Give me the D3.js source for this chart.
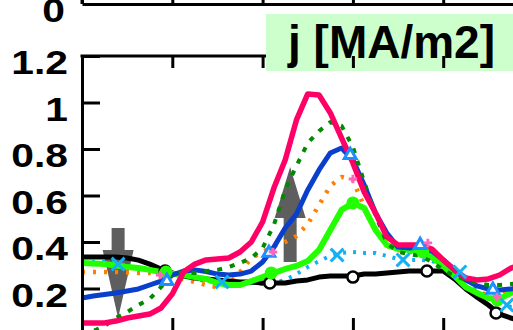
<!DOCTYPE html>
<html><head><meta charset="utf-8">
<script src="https://cdn.jsdelivr.net/npm/d3@7"></script>
<style>body{margin:0;background:#fff}svg{display:block}</style>
</head><body><svg id="c" width="513" height="330"></svg>
<script>
// ---- data (rho grid and current density j [MA/m2]) ----
const rho = [0,0.025,0.05,0.075,0.1,0.125,0.15,0.175,0.2,0.225,0.25,0.275,0.3,0.325,0.35,0.375,0.4,0.425,0.45,0.475,0.5,0.525,0.55,0.575,0.6,0.625,0.65,0.675,0.7,0.725,0.75,0.775,0.8,0.825,0.85,0.875,0.9,0.925,0.95,0.975];
const jBlack = [0.335,0.335,0.335,0.335,0.331,0.322,0.305,0.284,0.267,0.254,0.245,0.241,0.237,0.232,0.228,0.228,0.224,0.224,0.224,0.232,0.237,0.249,0.254,0.254,0.254,0.262,0.262,0.267,0.271,0.275,0.275,0.275,0.275,0.241,0.198,0.163,0.129,0.090,0.073,0.060];
const jPink = [0.052,0.052,0.052,0.060,0.073,0.082,0.090,0.116,0.176,0.271,0.305,0.323,0.327,0.331,0.357,0.400,0.486,0.632,0.753,0.925,1.037,1.032,0.955,0.847,0.740,0.615,0.525,0.422,0.387,0.387,0.387,0.370,0.323,0.280,0.245,0.237,0.241,0.258,0.288,0.305];
const jBlue = [0.159,0.168,0.174,0.181,0.189,0.198,0.215,0.232,0.258,0.275,0.280,0.273,0.262,0.258,0.262,0.275,0.314,0.378,0.460,0.520,0.624,0.710,0.783,0.804,0.753,0.645,0.525,0.439,0.378,0.374,0.378,0.361,0.323,0.280,0.237,0.211,0.198,0.194,0.198,0.202];
const jGreen = [0.310,0.308,0.305,0.299,0.292,0.288,0.280,0.271,0.262,0.258,0.249,0.241,0.224,0.215,0.215,0.232,0.249,0.267,0.284,0.297,0.318,0.366,0.452,0.538,0.568,0.546,0.452,0.387,0.370,0.366,0.361,0.335,0.297,0.254,0.206,0.181,0.159,0.155,0.181,0.202];
const jDarkGreen = [0.000,0.017,0.039,0.073,0.099,0.129,0.155,0.206,0.262,0.271,0.267,0.275,0.280,0.292,0.310,0.331,0.374,0.473,0.624,0.727,0.826,0.877,0.916,0.899,0.809,0.658,0.516,0.396,0.357,0.348,0.340,0.314,0.280,0.254,0.237,0.224,0.215,0.215,0.219,0.224];
const jOrange = [0.271,0.271,0.271,0.271,0.269,0.267,0.267,0.258,0.249,0.241,0.228,0.215,0.206,0.219,0.271,0.331,0.357,0.383,0.400,0.426,0.477,0.559,0.641,0.680,0.667,0.551,0.452,0.383,0.366,0.357,0.357,0.331,0.297,0.258,0.206,0.185,0.172,0.163,0.206,0.228];
const jCyan = [0.314,0.314,0.314,0.310,0.297,0.288,0.280,0.271,0.258,0.249,0.241,0.232,0.228,0.224,0.224,0.224,0.219,0.224,0.237,0.262,0.292,0.318,0.340,0.353,0.357,0.353,0.353,0.340,0.327,0.323,0.323,0.318,0.301,0.280,0.237,0.194,0.163,0.142,0.120,0.108];

// marker positions
const blackMarkRho = [0.184,0.416,0.600,0.764,0.917];
const blackMarkJ   = [0.275,0.224,0.249,0.275,0.095];
const greenMarkRho = [0.186,0.419,0.600,0.755,0.920];
const greenMarkJ   = [0.271,0.267,0.568,0.357,0.151];
const triMarkRho   = [0.188,0.414,0.594,0.749,0.910];
const triMarkJ     = [0.232,0.353,0.774,0.387,0.194];
const crossMarkRho = [0.080,0.310,0.565,0.711,0.837,0.941];
const crossMarkJ   = [0.305,0.228,0.344,0.323,0.271,0.129];
const plusMarkRho  = [0.173,0.423,0.600,0.766,0.919];
const plusMarkJ    = [0.258,0.357,0.671,0.396,0.163];

// annotation arrows (rho, from j, to j, head start j)
const arrows = [
  {rho:0.080, from:0.460, to:0.073, head:0.366},
  {rho:0.461, from:0.314, to:0.723, head:0.503}
];

const yTicks = [0,0.2,0.4,0.6,0.8,1.0,1.2];
const xTicks = [0,0.2,0.4,0.6,0.8,1.0];
const title = "j [MA/m2]";

// ---- drawing ----
const svg = d3.select("#c");
const x = d3.scaleLinear().domain([0,1]).range([82,533.5]);
const y = d3.scaleLinear().domain([0,1.2]).range([335,56]);
const yPrev = d3.scaleLinear().domain([0,1.2]).range([4,-275]);
const fmt = d => String(+d.toFixed(1));
const labelFont = "bold 34px 'Liberation Sans', Arial, sans-serif";
const sx = 1.2;

// title box
svg.append("rect").attr("x",266).attr("y",14).attr("width",260).attr("height",57).attr("fill","#ccffcc");
svg.append("text").attr("x",288).attr("y",58).text(title)
  .style("font","bold 46px 'Liberation Sans', Arial, sans-serif").attr("fill","#000");

// previous panel (bottom edge)
const gPrevX = svg.append("g").attr("transform","translate(0,4)")
  .call(d3.axisBottom(x).tickValues(xTicks).tickSizeInner(-14).tickSizeOuter(0).tickFormat(""));
const gPrevY = svg.append("g").attr("transform","translate(82,0)")
  .call(d3.axisLeft(yPrev).tickValues([0]).tickSizeInner(0).tickSizeOuter(0).tickPadding(17).tickFormat(fmt));

// arrows (under the curves)
const aw = {shaft:6.5, head:15.5};
arrows.forEach(a => {
  const cx = x(a.rho), y0 = y(a.from), y1 = y(a.to), yh = y(a.head);
  const p = d3.path();
  p.moveTo(cx-aw.shaft,y0); p.lineTo(cx+aw.shaft,y0); p.lineTo(cx+aw.shaft,yh);
  p.lineTo(cx+aw.head,yh); p.lineTo(cx,y1); p.lineTo(cx-aw.head,yh);
  p.lineTo(cx-aw.shaft,yh); p.closePath();
  svg.append("path").attr("d",p.toString()).attr("fill","#5e5e5e");
});

const line = vals => d3.line().x((d,i)=>x(rho[i])).y(d=>y(d))(vals);
const series = [
  {v:jCyan, c:"#12b0f5", w:4, dash:"3,7"},
  {v:jOrange, c:"#ff8000", w:4.5, dash:"3,8"},
  {v:jBlack, c:"#000000", w:5},
  {v:jGreen, c:"#22ff00", w:6},
  {v:jBlue, c:"#0a3fcc", w:5},
  {v:jDarkGreen, c:"#008a00", w:4, dash:"5,8"},
  {v:jPink, c:"#ff0066", w:5.5}
];
const gLines = svg.append("g");
series.forEach(s => {
  gLines.append("path").attr("d",line(s.v)).attr("fill","none")
    .attr("stroke",s.c).attr("stroke-width",s.w).attr("stroke-linejoin","round")
    .attr("stroke-dasharray",s.dash||null);
});

// markers
const gm = svg.append("g");
blackMarkRho.forEach((r,i)=>gm.append("circle").attr("cx",x(r)).attr("cy",y(blackMarkJ[i])).attr("r",5.5)
  .attr("fill","#fff").attr("stroke","#000").attr("stroke-width",2.5));
greenMarkRho.forEach((r,i)=>gm.append("circle").attr("cx",x(r)).attr("cy",y(greenMarkJ[i])).attr("r",6.5)
  .attr("fill","#22ff00"));
triMarkRho.forEach((r,i)=>gm.append("path").attr("d",d3.symbol(d3.symbolTriangle,60)())
  .attr("transform",`translate(${x(r)},${y(triMarkJ[i])})`).attr("fill","#fff").attr("stroke","#1e8fff").attr("stroke-width",3));
crossMarkRho.forEach((r,i)=>gm.append("path").attr("d",d3.symbol(d3.symbolTimes,110)())
  .attr("transform",`translate(${x(r)},${y(crossMarkJ[i])})`).attr("fill","none").attr("stroke","#12b0f5").attr("stroke-width",3));
plusMarkRho.forEach((r,i)=>gm.append("path").attr("d",d3.symbol(d3.symbolCross,40)())
  .attr("transform",`translate(${x(r)},${y(plusMarkJ[i])})`).attr("fill","#ff66bb"));

// axes of the current panel
const gY = svg.append("g").attr("transform","translate(82,0)")
  .call(d3.axisLeft(y).tickValues(yTicks).tickSizeInner(-18).tickSizeOuter(0).tickPadding(14).tickFormat(fmt));
const gTop = svg.append("g").attr("transform","translate(0,56)")
  .call(d3.axisTop(x).tickValues(xTicks).tickSizeInner(-12).tickSizeOuter(0).tickFormat(""));
const gBot = svg.append("g").attr("transform","translate(0,335)")
  .call(d3.axisBottom(x).tickValues(xTicks).tickSizeInner(-17).tickSizeOuter(0).tickFormat(""));

[gPrevX,gPrevY,gY,gTop,gBot].forEach(g=>{
  g.selectAll("path.domain").attr("stroke","#000").attr("stroke-width",3);
  g.selectAll(".tick line").attr("stroke","#000").attr("stroke-width",3);
  g.selectAll("text").style("font",labelFont).attr("fill","#000").attr("dy","0.52em")
    .attr("x", function(){ return (+d3.select(this).attr("x"))/sx; })
    .attr("transform",`scale(${sx},1)`);
});
gTop.select("path.domain").remove();
svg.append("line").attr("x1",x(0)-1.5).attr("x2",266).attr("y1",56).attr("y2",56).attr("stroke","#000").attr("stroke-width",3);
gPrevY.select("path.domain").attr("d","M0,-40V4");
</script></body></html>
